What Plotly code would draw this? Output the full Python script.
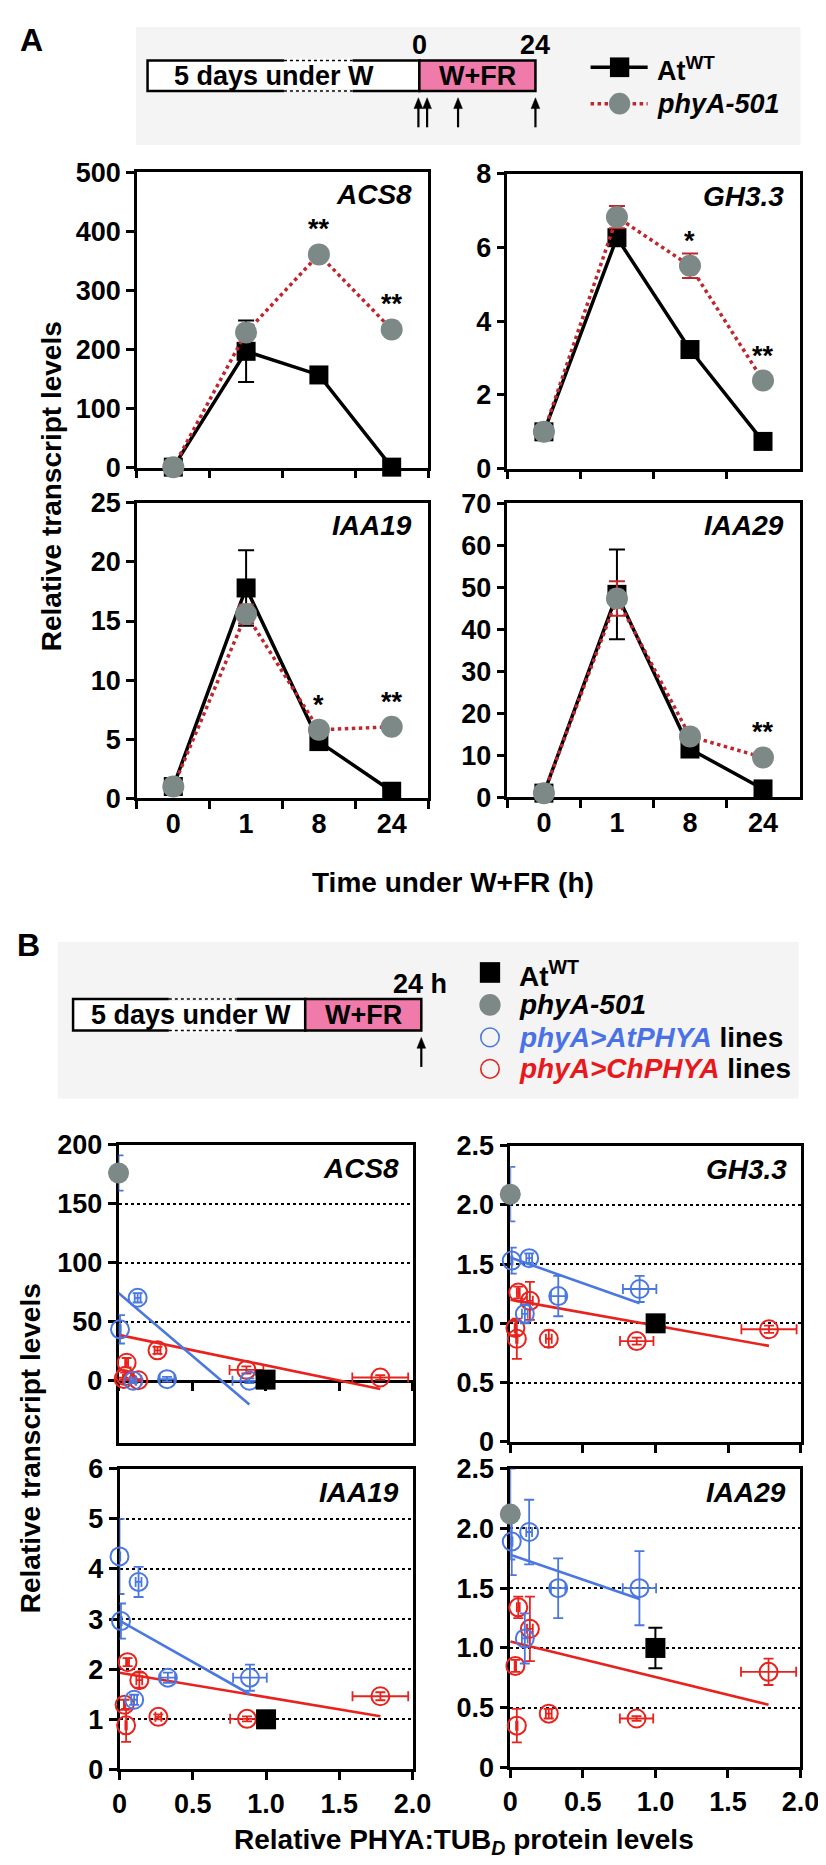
import plotly.graph_objects as go

W, H = 826, 1865

# ======================= DATA =======================
# ---- Panel A: time course (h under W+FR) ----
TIMES = ["0", "1", "8", "24"]
A_GENES = ["ACS8", "GH3.3", "IAA19", "IAA29"]

ACS8_A_WT = [1, 197, 157, 1]
ACS8_A_WT_ERR = [0.5, 52, 8, 0.5]
ACS8_A_PHYA = [1, 229, 361, 234]
ACS8_A_PHYA_ERR = [0.5, 10, 6, 6]

GH33_A_WT = [1.0, 6.26, 3.23, 0.74]
GH33_A_WT_ERR = [0.05, 0.2, 0.12, 0.05]
GH33_A_PHYA = [1.0, 6.82, 5.50, 2.39]
GH33_A_PHYA_ERR = [0.05, 0.30, 0.33, 0.10]

IAA19_A_WT = [1.0, 17.8, 4.8, 0.6]
IAA19_A_WT_ERR = [0.1, 3.2, 0.3, 0.1]
IAA19_A_PHYA = [1.0, 15.6, 5.8, 6.05]
IAA19_A_PHYA_ERR = [0.1, 0.8, 0.3, 0.3]

IAA29_A_WT = [1.0, 48.3, 11.5, 2.0]
IAA29_A_WT_ERR = [0.2, 10.7, 1.0, 0.3]
IAA29_A_PHYA = [1.0, 47.3, 14.5, 9.5]
IAA29_A_PHYA_ERR = [0.2, 4.1, 0.8, 0.6]

ACS8_A_STARS = ["", "", "**", "**"]
GH33_A_STARS = ["", "", "*", "**"]
IAA19_A_STARS = ["", "", "*", "**"]
IAA29_A_STARS = ["", "", "", "**"]

A_YMAX = [500, 8, 25, 70]
A_DTICK = [100, 2, 5, 10]

# ---- Panel B: transcript vs PHYA protein ----
B_GENES = ["ACS8", "GH3.3", "IAA19", "IAA29"]
B_XTICKS = [0, 0.5, 1.0, 1.5, 2.0]
B_XTICKTEXT = ["0", "0.5", "1.0", "1.5", "2.0"]

AT_X = [0.0, 0.01, 0.10, 0.13, 0.33, 0.89]
AT_XERR = [0.005, 0.005, 0.02, 0.02, 0.05, 0.115]
CH_X = [0.055, 0.135, 0.035, 0.045, 0.265, 0.87, 1.78]
CH_XERR = [0.01, 0.02, 0.005, 0.005, 0.02, 0.115, 0.19]
WT_X = [1.0]
PHYA_X = [0.0]
FIT_AT_X = [0.0, 0.89]
FIT_CH_X = [0.0, 1.78]

ACS8_B_AT = [176, 43.6, 0.0, 70.3, 1.4, 0.0]
ACS8_B_AT_ERR = [15, 12, 2, 4, 2, 2]
ACS8_B_CH = [15.3, 0.5, 1.6, 4.0, 25.8, 9.2, 2.8]
ACS8_B_CH_ERR = [4, 1, 1, 3, 3, 3, 2]
ACS8_B_WT = [1.0]
ACS8_B_WT_ERR = [1.0]
ACS8_B_PHYA = [176]
ACS8_B_FIT_AT = [74.4, -20.0]
ACS8_B_FIT_CH = [38.9, -7.0]

GH33_B_AT = [2.09, 1.53, 1.08, 1.55, 1.23, 1.29]
GH33_B_AT_ERR = [0.23, 0.11, 0.08, 0.04, 0.17, 0.11]
GH33_B_CH = [1.26, 1.19, 0.96, 0.87, 0.87, 0.85, 0.95]
GH33_B_CH_ERR = [0.05, 0.16, 0.06, 0.17, 0.07, 0.03, 0.03]
GH33_B_WT = [1.0]
GH33_B_WT_ERR = [0.03]
GH33_B_PHYA = [2.09]
GH33_B_FIT_AT = [1.555, 1.17]
GH33_B_FIT_CH = [1.20, 0.81]

IAA19_B_AT = [4.25, 2.96, 1.39, 3.74, 1.83, 1.83]
IAA19_B_AT_ERR = [0.75, 0.35, 0.10, 0.30, 0.10, 0.26]
IAA19_B_CH = [2.14, 1.78, 1.29, 0.88, 1.05, 1.01, 1.46]
IAA19_B_CH_ERR = [0.08, 0.15, 0.10, 0.33, 0.05, 0.05, 0.08]
IAA19_B_WT = [1.0]
IAA19_B_WT_ERR = [0.05]
IAA19_B_PHYA = [None]
IAA19_B_FIT_AT = [2.97, 1.50]
IAA19_B_FIT_CH = [1.93, 1.06]

IAA29_B_AT = [2.12, 1.89, 1.08, 1.97, 1.50, 1.50]
IAA29_B_AT_ERR = [0.38, 0.28, 0.21, 0.27, 0.25, 0.31]
IAA29_B_CH = [1.34, 1.16, 0.85, 0.35, 0.45, 0.41, 0.80]
IAA29_B_CH_ERR = [0.09, 0.27, 0.05, 0.14, 0.04, 0.02, 0.11]
IAA29_B_WT = [1.0]
IAA29_B_WT_ERR = [0.17]
IAA29_B_PHYA = [2.12]
IAA29_B_FIT_AT = [1.78, 1.41]
IAA29_B_FIT_CH = [1.054, 0.525]

B_YRANGE = [[-52.5, 200], [0, 2.5], [0, 6], [0, 2.5]]
B_YTICKS = [[0, 50, 100, 150, 200], [0, 0.5, 1.0, 1.5, 2.0, 2.5], [0, 1, 2, 3, 4, 5, 6], [0, 0.5, 1.0, 1.5, 2.0, 2.5]]
B_YTICKTEXT = [["0", "50", "100", "150", "200"], ["0", "0.5", "1.0", "1.5", "2.0", "2.5"],
               ["0", "1", "2", "3", "4", "5", "6"], ["0", "0.5", "1.0", "1.5", "2.0", "2.5"]]

# ======================= STYLE =======================
FONT = "Liberation Sans, Arial, sans-serif"
BLACK = "#000000"
DRED = "#c0272d"
GRAY = "#7d8987"
BLUE = "#4a78e0"
RED = "#e8231d"
PINK = "#f07aaa"
BOXBG = "#f4f4f4"
LW = 2.5


def fx(px):
    return px / W


def fy(py):
    return 1 - py / H


def axid(n):
    return ("x" if n == 1 else f"x{n}"), ("y" if n == 1 else f"y{n}")


def axkey(n):
    return ("xaxis" if n == 1 else f"xaxis{n}"), ("yaxis" if n == 1 else f"yaxis{n}")


A_BOX = [(125, 426, 151.7, 452), (508, 810, 153, 453), (125, 426, 487.7, 788), (508, 810, 488, 787)]
B_BOX = [(106, 410, 1140, 1443), (511, 811.5, 1141, 1442), (107, 410, 1469.3, 1775), (511, 811, 1469.3, 1773)]

A_WT = [ACS8_A_WT, GH33_A_WT, IAA19_A_WT, IAA29_A_WT]
A_WT_ERR = [ACS8_A_WT_ERR, GH33_A_WT_ERR, IAA19_A_WT_ERR, IAA29_A_WT_ERR]
A_PH = [ACS8_A_PHYA, GH33_A_PHYA, IAA19_A_PHYA, IAA29_A_PHYA]
A_PH_ERR = [ACS8_A_PHYA_ERR, GH33_A_PHYA_ERR, IAA19_A_PHYA_ERR, IAA29_A_PHYA_ERR]
A_STARS = [ACS8_A_STARS, GH33_A_STARS, IAA19_A_STARS, IAA29_A_STARS]

B_AT = [ACS8_B_AT, GH33_B_AT, IAA19_B_AT, IAA29_B_AT]
B_AT_ERR = [ACS8_B_AT_ERR, GH33_B_AT_ERR, IAA19_B_AT_ERR, IAA29_B_AT_ERR]
B_CH = [ACS8_B_CH, GH33_B_CH, IAA19_B_CH, IAA29_B_CH]
B_CH_ERR = [ACS8_B_CH_ERR, GH33_B_CH_ERR, IAA19_B_CH_ERR, IAA29_B_CH_ERR]
B_WT = [ACS8_B_WT, GH33_B_WT, IAA19_B_WT, IAA29_B_WT]
B_WT_ERR = [ACS8_B_WT_ERR, GH33_B_WT_ERR, IAA19_B_WT_ERR, IAA29_B_WT_ERR]
B_PH = [ACS8_B_PHYA, GH33_B_PHYA, IAA19_B_PHYA, IAA29_B_PHYA]
B_FIT_AT = [ACS8_B_FIT_AT, GH33_B_FIT_AT, IAA19_B_FIT_AT, IAA29_B_FIT_AT]
B_FIT_CH = [ACS8_B_FIT_CH, GH33_B_FIT_CH, IAA19_B_FIT_CH, IAA29_B_FIT_CH]

fig = go.Figure()
layout = {}
annotations = []
shapes = []

TICKFONT = dict(family=FONT, size=27, color=BLACK, weight="bold")

# ---------------- Panel A plots ----------------
for i, gene in enumerate(A_GENES):
    n = i + 1
    xa, ya = axid(n)
    xk, yk = axkey(n)
    x0, x1, yt, yb = A_BOX[i]
    layout[xk] = dict(
        domain=[fx(x0), fx(x1)], anchor=ya, type="category", categoryarray=TIMES,
        range=[-0.5, 3.5], tickson="boundaries", ticks="outside", ticklen=8, tickwidth=LW,
        tickcolor=BLACK, showline=True, linewidth=LW, linecolor=BLACK, mirror=True,
        showgrid=False, zeroline=False, showticklabels=(i >= 2), tickfont=TICKFONT,
        layer="below traces", fixedrange=True)
    layout[yk] = dict(
        domain=[fy(yb), fy(yt)], anchor=xa, range=[0, A_YMAX[i]], dtick=A_DTICK[i], tick0=0,
        ticks="outside", ticklen=8, tickwidth=LW, tickcolor=BLACK, showline=True, linewidth=LW,
        linecolor=BLACK, mirror=True, showgrid=False, zeroline=False, tickfont=TICKFONT,
        layer="below traces", fixedrange=True)
    fig.add_trace(go.Scatter(
        x=TIMES, y=A_WT[i], xaxis=xa, yaxis=ya, mode="lines+markers", name="AtWT",
        line=dict(color=BLACK, width=3.5), marker=dict(symbol="square", size=19, color=BLACK),
        error_y=dict(type="data", array=A_WT_ERR[i], color=BLACK, thickness=2, width=8),
        cliponaxis=False, showlegend=False))
    fig.add_trace(go.Scatter(
        x=TIMES, y=A_PH[i], xaxis=xa, yaxis=ya, mode="lines+markers", name="phyA-501",
        line=dict(color=DRED, width=3.5, dash="dot"), marker=dict(symbol="circle", size=22, color=GRAY),
        error_y=dict(type="data", array=A_PH_ERR[i], color=DRED, thickness=2, width=8),
        cliponaxis=False, showlegend=False))
    for j, s in enumerate(A_STARS[i]):
        if s:
            annotations.append(dict(x=j, y=A_PH[i][j], xref=xa, yref=ya, text=s, showarrow=False,
                                    yanchor="middle", yshift=25,
                                    font=dict(family=FONT, size=27, color=BLACK, weight="bold")))
    annotations.append(dict(x=1, y=1, xref=f"{xa} domain", yref=f"{ya} domain", text=f"<i>{gene}</i>",
                            showarrow=False, xanchor="right", yanchor="top", xshift=-14, yshift=-5,
                            font=dict(family=FONT, size=28, color=BLACK, weight="bold")))

# ---------------- Panel B plots ----------------
for i, gene in enumerate(B_GENES):
    n = i + 5
    xa, ya = axid(n)
    xk, yk = axkey(n)
    x0, x1, yt, yb = B_BOX[i]
    layout[xk] = dict(
        domain=[fx(x0), fx(x1)], anchor=ya, range=[0, 2.0], tickvals=B_XTICKS, ticktext=B_XTICKTEXT,
        ticks=("" if i == 0 else "outside"), ticklen=8, tickwidth=LW, tickcolor=BLACK,
        showline=True, linewidth=LW, linecolor=BLACK, mirror=True, showgrid=False, zeroline=False,
        showticklabels=(i >= 2), tickfont=TICKFONT, layer="below traces", fixedrange=True)
    layout[yk] = dict(
        domain=[fy(yb), fy(yt)], anchor=xa, range=B_YRANGE[i], tickvals=B_YTICKS[i], ticktext=B_YTICKTEXT[i],
        ticks="outside", ticklen=8, tickwidth=LW, tickcolor=BLACK, showline=True, linewidth=LW,
        linecolor=BLACK, mirror=True, showgrid=True, gridcolor=BLACK, gridwidth=1.6, griddash="dot",
        zeroline=False, tickfont=TICKFONT, layer="below traces", fixedrange=True)
    fig.add_trace(go.Scatter(x=FIT_CH_X, y=B_FIT_CH[i], xaxis=xa, yaxis=ya, mode="lines",
                             line=dict(color=RED, width=2.6), showlegend=False, hoverinfo="skip"))
    fig.add_trace(go.Scatter(x=FIT_AT_X, y=B_FIT_AT[i], xaxis=xa, yaxis=ya, mode="lines",
                             line=dict(color=BLUE, width=2.6), showlegend=False, hoverinfo="skip"))
    fig.add_trace(go.Scatter(
        x=CH_X, y=B_CH[i], xaxis=xa, yaxis=ya, mode="markers", name="phyA>ChPHYA lines",
        marker=dict(symbol="circle-open", size=18, color=RED, line=dict(width=2)),
        error_x=dict(type="data", array=CH_XERR, color=RED, thickness=1.8, width=5),
        error_y=dict(type="data", array=B_CH_ERR[i], color=RED, thickness=1.8, width=5),
        cliponaxis=False, showlegend=False))
    fig.add_trace(go.Scatter(
        x=AT_X, y=B_AT[i], xaxis=xa, yaxis=ya, mode="markers", name="phyA>AtPHYA lines",
        marker=dict(symbol="circle-open", size=18, color=BLUE, line=dict(width=2)),
        error_x=dict(type="data", array=AT_XERR, color=BLUE, thickness=1.8, width=5),
        error_y=dict(type="data", array=B_AT_ERR[i], color=BLUE, thickness=1.8, width=5),
        cliponaxis=False, showlegend=False))
    fig.add_trace(go.Scatter(
        x=WT_X, y=B_WT[i], xaxis=xa, yaxis=ya, mode="markers", name="AtWT",
        marker=dict(symbol="square", size=20, color=BLACK),
        error_y=dict(type="data", array=B_WT_ERR[i], color=BLACK, thickness=2, width=7),
        cliponaxis=False, showlegend=False))
    fig.add_trace(go.Scatter(
        x=PHYA_X, y=B_PH[i], xaxis=xa, yaxis=ya, mode="markers", name="phyA-501",
        marker=dict(symbol="circle", size=21, color=GRAY),
        cliponaxis=False, showlegend=False))
    annotations.append(dict(x=1, y=1, xref=f"{xa} domain", yref=f"{ya} domain", text=f"<i>{gene}</i>",
                            showarrow=False, xanchor="right", yanchor="top", xshift=-12, yshift=-6,
                            font=dict(family=FONT, size=28, color=BLACK, weight="bold")))

# ACS8 (B): x axis drawn at y = 0
ymin, ymax = B_YRANGE[0]
d0, d1 = fy(B_BOX[0][3]), fy(B_BOX[0][2])
zero_pos = d0 + (0 - ymin) / (ymax - ymin) * (d1 - d0)
layout["xaxis9"] = dict(
    overlaying="x5", anchor="free", position=zero_pos, domain=layout["xaxis5"]["domain"],
    range=[0, 2.0], tickvals=B_XTICKS, ticks="outside", ticklen=8, tickwidth=LW, tickcolor=BLACK,
    showline=True, linewidth=LW, linecolor=BLACK, showgrid=False, zeroline=False,
    showticklabels=False, layer="below traces", fixedrange=True)
fig.add_trace(go.Scatter(x=[], y=[], xaxis="x9", yaxis="y5", showlegend=False))


# ---------------- Schematics / legends ----------------
def prect(x0, y0, x1, y1, fill, line_color=None, lw=0, layer="above", kind="rect"):
    shapes.append(dict(type=kind, xref="paper", yref="paper", x0=fx(x0), x1=fx(x1), y0=fy(y1), y1=fy(y0),
                       fillcolor=fill, layer=layer,
                       line=dict(color=line_color or "rgba(0,0,0,0)", width=lw)))


def pline(x0, y0, x1, y1, color, lw, dash="solid"):
    shapes.append(dict(type="line", xref="paper", yref="paper", x0=fx(x0), x1=fx(x1), y0=fy(y0), y1=fy(y1),
                       line=dict(color=color, width=lw, dash=dash)))


def txt(x, y, s, size, xanchor="center", angle=0):
    annotations.append(dict(x=fx(x), y=fy(y), xref="paper", yref="paper", text=s, showarrow=False,
                            xanchor=xanchor, yanchor="middle", textangle=angle,
                            font=dict(family=FONT, size=size, color=BLACK, weight="bold")))


def arrow(x, ytip, length=30):
    # shaft
    pline(x, ytip + 8, x, ytip + length, BLACK, 2.2)
    # head (triangle)
    path = (f"M {fx(x)} {fy(ytip)} L {fx(x - 4.5)} {fy(ytip + 11)} "
            f"L {fx(x + 4.5)} {fy(ytip + 11)} Z")
    shapes.append(dict(type="path", xref="paper", yref="paper", path=path,
                       fillcolor=BLACK, line=dict(color=BLACK, width=0.5)))


# Panel A header
prect(124, 4, 811, 124, BOXBG, layer="below")
prect(136, 38, 417, 69, "white", BLACK, 2.5)
prect(417, 38, 537, 69, PINK, BLACK, 2.5)
for yy in (38, 69):
    pline(277, yy, 348, yy, "white", 3.5)
    pline(277, yy, 348, yy, BLACK, 1.5, "dot")
txt(16, 17, "A", 32)
txt(417, 22, "0", 27)
txt(537, 22, "24", 27)
txt(267, 54, "5 days under W", 27)
txt(477, 54, "W+FR", 27)
for ax_x in (416, 425, 457, 537):
    arrow(ax_x, 76)
# legend A
pline(594, 45, 653, 45, BLACK, 3.5)
prect(614, 35, 634, 55, BLACK)
txt(661, 47, "At<sup>WT</sup>", 27, xanchor="left")
pline(594, 82, 653, 82, DRED, 3.5, "dot")
prect(613, 71, 635, 93, GRAY, kind="circle")
txt(661, 82, "<i>phyA-501</i>", 27, xanchor="left")

# Panel B header
prect(43, 934, 809, 1093, BOXBG, layer="below")
prect(59, 992, 299, 1024, "white", BLACK, 2.5)
prect(299, 992, 419, 1024, PINK, BLACK, 2.5)
for yy in (992, 1024):
    pline(158, yy, 228, yy, "white", 3.5)
    pline(158, yy, 228, yy, BLACK, 1.5, "dot")
txt(13, 937, "B", 32)
txt(418, 977, "24 h", 27)
txt(181, 1008, "5 days under W", 27)
txt(359, 1008, "W+FR", 27)
arrow(419, 1031)
# legend B
prect(479.5, 954.5, 500.5, 975.5, BLACK)
txt(518, 967, "At<sup>WT</sup>", 28, xanchor="left")
prect(479, 987, 501, 1009, GRAY, kind="circle")
txt(518, 998, "<i>phyA-501</i>", 28, xanchor="left")
prect(480.5, 1021.5, 499.5, 1040.5, "rgba(0,0,0,0)", BLUE, 1.6, kind="circle")
txt(518, 1031, "<i><span style='color:#4a72e6'>phyA&gt;AtPHYA</span></i> lines", 28, xanchor="left")
prect(480.5, 1053.5, 499.5, 1072.5, "rgba(0,0,0,0)", RED, 1.6, kind="circle")
txt(518, 1063, "<i><span style='color:#e8191c'>phyA&gt;ChPHYA</span></i> lines", 28, xanchor="left")

# Axis titles
txt(37, 471, "Relative transcript levels", 28, angle=-90)
txt(452, 874, "Time under W+FR (h)", 28)
txt(15, 1449, "Relative transcript levels", 28, angle=-90)
txt(463, 1848, "Relative PHYA:TUB<sub><i>D</i></sub> protein levels", 28)

fig.update_layout(
    width=W, height=H, autosize=False, margin=dict(l=0, r=0, t=0, b=0),
    paper_bgcolor="white", plot_bgcolor="rgba(0,0,0,0)",
    font=dict(family=FONT, size=27, color=BLACK, weight="bold"),
    shapes=shapes, annotations=annotations, showlegend=False,
    **layout,
)

fig.write_html("out.html")
